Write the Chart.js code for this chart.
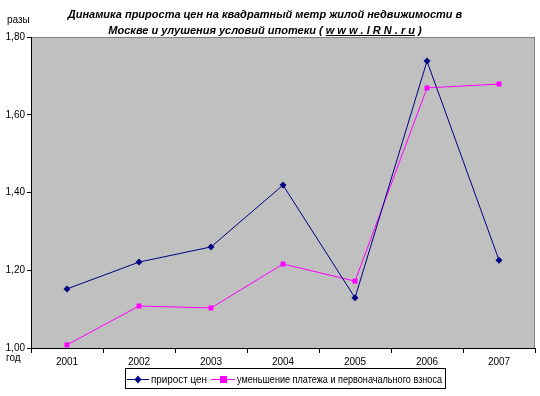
<!DOCTYPE html>
<html>
<head>
<meta charset="utf-8">
<script src="https://cdn.jsdelivr.net/npm/chart.js@4"></script>
<style>
  body { margin: 0; background: #fff; }
  #wrap { position: relative; width: 540px; height: 396px; }
  #title {
    position: absolute; left: 0; top: 6px; width: 530px;
    text-align: center; font: italic bold 11px "Liberation Sans", Arial, sans-serif;
    line-height: 16px; color: #000; white-space: pre;
  }
</style>
</head>
<body>
<div id="wrap">
  <canvas id="c" width="540" height="396"></canvas>
  <div id="title">Динамика прироста цен на квадратный метр жилой недвижимости в
Москве и улушения условий ипотеки ( <u>w w w . I R N . r u</u> )</div>
</div>
<script>
  const years = ['2001', '2002', '2003', '2004', '2005', '2006', '2007'];
  const priceGrowth = [1.152, 1.221, 1.26, 1.419, 1.129, 1.738, 1.226];
  const paymentDrop = [1.008, 1.108, 1.103, 1.216, 1.172, 1.669, 1.679];
  const seriesNames = ['прирост цен', 'уменьшение платежа и первоначального взноса'];

  const font = '"Liberation Sans", Arial, sans-serif';

  // gray plot area + extra labels + boxed legend
  const excelLook = {
    id: 'excelLook',
    beforeDraw(chart) {
      const { ctx, chartArea: a } = chart;
      ctx.save();
      ctx.fillStyle = '#c0c0c0';
      ctx.fillRect(a.left, a.top, a.right - a.left, a.bottom - a.top);
      ctx.strokeStyle = '#808080';
      ctx.lineWidth = 1;
      ctx.strokeRect(a.left + 0.5, a.top + 0.5, a.right - a.left - 1, a.bottom - a.top);
      ctx.restore();
    },
    afterDraw(chart) {
      const { ctx } = chart;
      ctx.save();
      ctx.fillStyle = '#000';
      ctx.font = '10px ' + font;
      ctx.textBaseline = 'middle';
      ctx.fillText('разы', 7, 20);
      ctx.fillText('год', 6, 358);

      // legend
      ctx.strokeStyle = '#000';
      ctx.lineWidth = 1;
      ctx.strokeRect(125.5, 368.5, 320, 20);
      const y = 379;
      const items = [
        { color: '#000080', x0: 127, x1: 149, style: 'diamond', tx: 151, w: 56 },
        { color: '#ff00ff', x0: 211, x1: 235, style: 'square', tx: 237, w: 205 }
      ];
      items.forEach((it, i) => {
        ctx.strokeStyle = it.color;
        ctx.beginPath();
        ctx.moveTo(it.x0, y + 0.5);
        ctx.lineTo(it.x1, y + 0.5);
        ctx.stroke();
        const mx = (it.x0 + it.x1) / 2;
        ctx.fillStyle = it.color;
        if (it.style === 'square') {
          ctx.fillRect(mx - 3, y - 3, 7, 7);
        } else {
          ctx.beginPath();
          ctx.moveTo(mx, y - 3.5);
          ctx.lineTo(mx + 3.5, y + 0.5);
          ctx.lineTo(mx, y + 4.5);
          ctx.lineTo(mx - 3.5, y + 0.5);
          ctx.closePath();
          ctx.fill();
        }
        ctx.fillStyle = '#000';
        ctx.fillText(seriesNames[i], it.tx, y + 1, it.w);
      });
      ctx.restore();
    }
  };

  new Chart(document.getElementById('c'), {
    type: 'line',
    data: {
      labels: years,
      datasets: [
        {
          label: seriesNames[0],
          data: priceGrowth,
          borderColor: '#000080',
          backgroundColor: '#000080',
          borderWidth: 1,
          pointStyle: 'rectRot',
          pointRadius: 3.5,
          pointBorderWidth: 0,
          tension: 0
        },
        {
          label: seriesNames[1],
          data: paymentDrop,
          borderColor: '#ff00ff',
          backgroundColor: '#ff00ff',
          borderWidth: 1,
          pointStyle: 'rect',
          pointRadius: 3.5,
          pointBorderWidth: 0,
          tension: 0
        }
      ]
    },
    options: {
      responsive: false,
      animation: false,
      layout: { padding: { top: 37, right: 5, bottom: 28, left: 0 } },
      plugins: {
        legend: { display: false },
        title: { display: false },
        tooltip: { enabled: false }
      },
      scales: {
        x: {
          offset: true,
          grid: {
            offset: true,
            drawOnChartArea: false,
            drawTicks: true,
            tickLength: 5,
            color: '#000'
          },
          border: { color: '#000', width: 1 },
          ticks: { color: '#000', font: { family: font, size: 10 }, padding: 3, maxRotation: 0 },
          afterFit(s) { s.height = 20; }
        },
        y: {
          min: 1.0,
          max: 1.8,
          grid: {
            drawOnChartArea: false,
            drawTicks: true,
            tickLength: 4,
            color: '#000'
          },
          border: { color: '#000', width: 1 },
          ticks: {
            stepSize: 0.2,
            color: '#000',
            padding: 2,
            font: { family: font, size: 10 },
            callback: (v) => v.toFixed(2).replace('.', ',')
          },
          afterFit(s) { s.width = 31; }
        }
      }
    },
    plugins: [excelLook]
  });
</script>
</body>
</html>
